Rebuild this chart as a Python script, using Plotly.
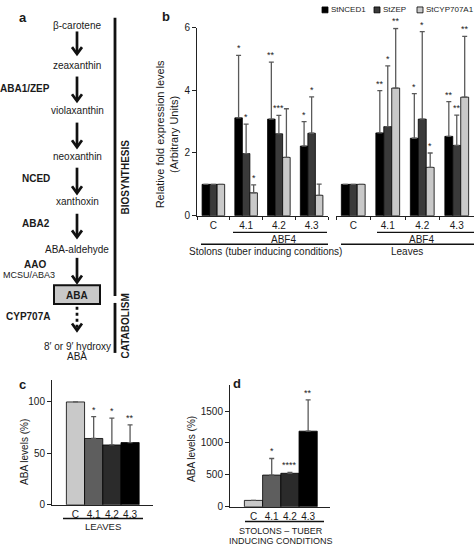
import plotly.graph_objects as go

W, H = 474, 551
FONT = "Liberation Sans, Arial, sans-serif"
TXT = "#1a1a1a"

# ---------------- data ----------------
categories = ["C", "4.1", "4.2", "4.3"]
gene_names = ["StNCED1", "StZEP", "StCYP707A1"]
gene_colors = ["#000000", "#3a3a3a", "#c9c9c9"]

# panel b – stolons (tuber inducing conditions)
stolon_vals = [[1, 3.12, 3.08, 2.22],
               [1, 1.98, 2.61, 2.63],
               [1, 0.73, 1.86, 0.65]]
stolon_errtop = [[None, 5.11, 4.90, 3.00],
                 [None, 2.92, 3.20, 3.79],
                 [None, 0.98, 3.41, 1.01]]
stolon_stars = [["", "*", "**", "*"],
                ["", "*", "***", "*"],
                ["", "*", "", ""]]

# panel b – leaves
leaf_vals = [[1, 2.64, 2.47, 2.53],
             [1, 2.84, 3.08, 2.24],
             [1, 4.07, 1.54, 3.78]]
leaf_errtop = [[None, 3.99, 3.89, 3.64],
               [None, 4.78, 5.87, 3.21],
               [None, 5.97, 2.00, 5.72]]
leaf_stars = [["", "**", "*", "**"],
              ["", "*", "*", "**"],
              ["", "**", "*", "**"]]

# panel c – ABA levels, leaves
c_vals = [100, 64.5, 58.2, 60.5]
c_errtop = [None, 85.8, 84.2, 77.8]
c_stars = ["", "*", "*", "**"]

# panel d – ABA levels, stolons
d_vals = [100, 497, 525, 1185]
d_errtop = [None, 757, 540, 1675]
d_stars = ["", "*", "****", "**"]

line_colors = ["#c9c9c9", "#5e5e5e", "#2b2b2b", "#000000"]

# ---------------- helpers ----------------
def PX(x):
    return x / W


def PY(y):
    return 1 - y / H


fig = go.Figure()
shapes = []
annots = []


def ptext(x, y, text, size=10, bold=False, xanchor="center", angle=0, color=TXT):
    annots.append(dict(xref="paper", yref="paper", x=PX(x), y=PY(y),
                       text=("<b>%s</b>" % text) if bold else text,
                       showarrow=False, xanchor=xanchor, yanchor="middle",
                       textangle=angle, font=dict(family=FONT, size=size, color=color)))


def pline(x0, y0, x1, y1, width=1.5, color="#111", dash="solid"):
    shapes.append(dict(type="line", xref="paper", yref="paper",
                       x0=PX(x0), y0=PY(y0), x1=PX(x1), y1=PY(y1),
                       line=dict(color=color, width=width, dash=dash)))


def parrow(x, y0, y1, dotted=False):
    pline(x, y0, x, y1 - 1, width=2.7, dash="dot" if dotted else "solid")
    shapes.append(dict(type="path", xref="paper", yref="paper",
                       path="M %f,%f L %f,%f L %f,%f" % (PX(x - 5), PY(y1 - 7), PX(x), PY(y1),
                                                         PX(x + 5), PY(y1 - 7)),
                       line=dict(color="#111", width=2.7)))


def err(vals, tops):
    plus = [None if t is None else t - v for v, t in zip(vals, tops)]
    return dict(type="data", symmetric=False, array=plus, arrayminus=[0] * len(vals),
                color="#5a5a5a", thickness=1.3, width=2.5)


# ---------------- panel b ----------------
bw = 0.23
for xa, vals, tops, stars in [("x", stolon_vals, stolon_errtop, stolon_stars),
                              ("x2", leaf_vals, leaf_errtop, leaf_stars)]:
    for i in range(3):
        fig.add_trace(go.Bar(
            x=categories, y=vals[i], xaxis=xa, yaxis="y",
            width=bw, offset=-1.5 * bw + i * bw,
            marker=dict(color=gene_colors[i], line=dict(color="#000", width=0.8)),
            error_y=err(vals[i], tops[i]), showlegend=False, name=gene_names[i]))
        for j, s in enumerate(stars[i]):
            if s:
                annots.append(dict(xref=xa, yref="y", x=j - bw + i * bw, y=tops[i][j],
                                   text=s, showarrow=False, yanchor="bottom", yshift=0,
                                   font=dict(family=FONT, size=9, color=TXT)))

# ---------------- panel c / d ----------------
for xa, ya, vals, tops, stars in [("x3", "y3", c_vals, c_errtop, c_stars),
                                  ("x4", "y4", d_vals, d_errtop, d_stars)]:
    fig.add_trace(go.Bar(
        x=categories, y=vals, xaxis=xa, yaxis=ya, width=1, offset=-0.5,
        marker=dict(color=line_colors, line=dict(color="#000", width=0.8)),
        error_y=err(vals, tops), showlegend=False))
    for j, s in enumerate(stars):
        if s:
            annots.append(dict(xref=xa, yref=ya, x=j, y=tops[j], text=s, showarrow=False,
                               yanchor="bottom", yshift=0,
                               font=dict(family=FONT, size=9, color=TXT)))

axis_common = dict(showline=True, linecolor="#222", linewidth=1, showgrid=False,
                   zeroline=False, tickfont=dict(family=FONT, size=10, color=TXT),
                   tickcolor="#222", fixedrange=True)

fig.update_layout(
    width=W, height=H, autosize=False,
    margin=dict(l=0, r=0, t=0, b=0),
    paper_bgcolor="white", plot_bgcolor="white",
    font=dict(family=FONT, color=TXT),
    xaxis=dict(axis_common, domain=[PX(197), PX(328)], anchor="y", type="category",
               range=[-0.5, 3.5], ticks="outside", tickson="boundaries", ticklen=3),
    xaxis2=dict(axis_common, domain=[PX(336), PX(474)], anchor="y", type="category",
                range=[-0.5, 3.5], ticks="outside", tickson="boundaries", ticklen=3),
    yaxis=dict(axis_common, domain=[PY(215), PY(23)], anchor="x", range=[0, 6],
               tickvals=[0, 2, 4, 6], ticks="outside", ticklen=4),
    xaxis3=dict(axis_common, domain=[PX(52), PX(153)], anchor="y3", type="category",
                range=[-1.29, 4.26], ticks=""),
    yaxis3=dict(axis_common, domain=[PY(510), PY(383)], anchor="x3", range=[0, 121],
                tickvals=[0, 50, 100], ticks="outside", ticklen=4),
    xaxis4=dict(axis_common, domain=[PX(230), PX(330)], anchor="y4", type="category",
                range=[-1.29, 4.2], ticks=""),
    yaxis4=dict(axis_common, domain=[PY(512), PY(388)], anchor="x4", range=[0, 1905],
                tickvals=[0, 500, 1000, 1500], ticks="outside", ticklen=4),
)

# ---------------- panel a (pathway diagram) ----------------
ptext(23, 13, "a", size=13, bold=True)
ptext(77, 21, "β-carotene")
parrow(77, 27, 50)
ptext(77, 62, "zeaxanthin")
ptext(52, 85, "ABA1/ZEP", bold=True, xanchor="right")
parrow(77, 73, 98)
ptext(77, 108, "violaxanthin")
parrow(77, 120, 145)
ptext(77, 155, "neoxanthin")
ptext(52, 177, "NCED", bold=True, xanchor="right")
parrow(77, 166, 192)
ptext(77, 201, "xanthoxin")
ptext(52, 223, "ABA2", bold=True, xanchor="right")
parrow(77, 213, 237)
ptext(77, 249, "ABA-aldehyde")
ptext(35, 265, "AAO", bold=True)
ptext(1, 275, "MCSU/ABA3", size=9, xanchor="left")
parrow(77, 258, 283)
shapes.append(dict(type="rect", xref="paper", yref="paper", x0=PX(54), x1=PX(100),
                   y0=PY(305), y1=PY(286), fillcolor="#c8c8c8",
                   line=dict(color="#111", width=2)))
ptext(77, 296, "ABA", bold=True)
ptext(52, 318, "CYP707A", bold=True, xanchor="right")
parrow(77, 308, 332, dotted=True)
ptext(77, 348, "8′ or 9′ hydroxy")
ptext(77, 359, "ABA")
pline(115, 13, 115, 297, width=2.8)
pline(115, 304, 115, 355, width=2.8)
ptext(125, 176, "BIOSYNTHESIS", bold=True, angle=-90)
ptext(125, 328, "CATABOLISM", bold=True, angle=-90)

# ---------------- panel b decorations ----------------
ptext(166, 12, "b", size=13, bold=True)
annots.append(dict(xref="paper", yref="paper", x=PX(167), y=PY(132),
                   text="Relative fold expression levels<br>(Arbitrary Units)",
                   showarrow=False, textangle=-90, xanchor="center", yanchor="middle",
                   font=dict(family=FONT, size=11, color=TXT)))
pline(233, 232, 327, 232, width=1.3)
ptext(283, 239, "ABF4")
pline(201, 244, 328, 244, width=1.5)
ptext(265, 252, "Stolons (tuber inducing conditions)")
pline(377, 232, 474, 232, width=1.3)
ptext(421, 239, "ABF4")
pline(341, 244, 474, 244, width=1.5)
ptext(407, 252, "Leaves")

# manual legend
leg_x = [322, 374, 417]
for i, name in enumerate(gene_names):
    shapes.append(dict(type="rect", xref="paper", yref="paper",
                       x0=PX(leg_x[i]), x1=PX(leg_x[i] + 6), y0=PY(8), y1=PY(2),
                       fillcolor=gene_colors[i], line=dict(color="#000", width=0.8)))
    ptext(leg_x[i] + 6.5, 5, name, size=8, xanchor="left")

# ---------------- panel c / d decorations ----------------
ptext(22, 387, "c", size=13, bold=True)
ptext(25, 456, "ABA levels (%)", angle=-90)
pline(63, 524, 143, 524, width=1.5)
ptext(103, 532, "LEAVES", size=9.5)

ptext(237, 386, "d", size=13, bold=True)
ptext(192, 453, "ABA levels (%)", angle=-90)
pline(245, 527, 324, 527, width=1.5)
ptext(281, 537, "STOLONS – TUBER", size=9)
ptext(281, 547, "INDUCING CONDITIONS", size=9)

fig.update_layout(shapes=shapes, annotations=annots, bargap=0)
fig.write_html("out.html", config={"displayModeBar": False, "staticPlot": True},
               post_script="document.body.style.margin='0';document.body.style.overflow='hidden';")
